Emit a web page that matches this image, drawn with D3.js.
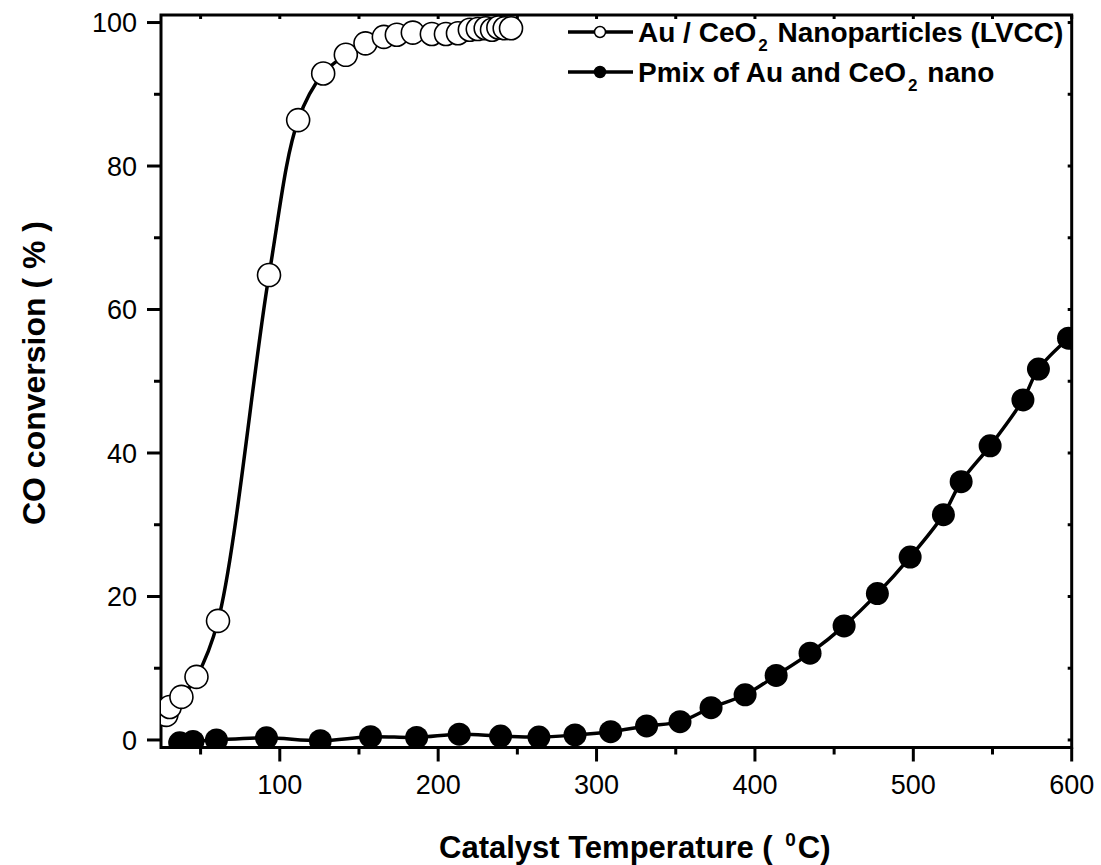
<!DOCTYPE html>
<html>
<head>
<meta charset="utf-8">
<script src="https://cdn.jsdelivr.net/npm/d3@7"></script>
<style>
  body { margin: 0; background: #fff; }
  svg { font-family: "Liberation Sans", Arial, sans-serif; }
</style>
</head>
<body>
<svg id="chart" width="1101" height="865"></svg>
<script>
/* ==== Data ==== */
// Au / CeO2 Nanoparticles (LVCC)
var tempAu = [28.4, 30.5, 37.9, 47.4, 61.0, 93.2, 111.6, 127.4, 141.7, 154.1, 165.7, 173.9,
              184, 196, 204.9, 212.5, 220, 225, 230, 234, 238, 242, 246];
var convAu = [3.5, 4.6, 6.0, 8.8, 16.6, 64.8, 86.4, 92.9, 95.5, 97.1, 98.0, 98.3,
              98.6, 98.4, 98.4, 98.5, 99.0, 99.1, 99.2, 99.0, 99.3, 99.2, 99.2];

// Pmix of Au and CeO2 nano
var tempPmix = [36.8, 45.2, 60.0, 91.6, 125.6, 157.3, 186.4, 213.3, 239.4, 263.6, 286.4, 308.9,
                331.6, 352.7, 372.3, 393.8, 413.4, 434.8, 456.3, 477.3, 498.0, 519.0, 530.2,
                548.5, 569.2, 579.0, 598.0];
var convPmix = [-0.4, -0.2, 0, 0.3, -0.1, 0.45, 0.35, 0.8, 0.55, 0.4, 0.7, 1.15,
                1.95, 2.55, 4.5, 6.3, 9.0, 12.1, 15.9, 20.4, 25.5, 31.4, 36.0,
                41.0, 47.4, 51.7, 56.0];

var xMajor = [100, 200, 300, 400, 500, 600];
var xMinor = [50, 150, 250, 350, 450, 550];
var yMajor = [0, 20, 40, 60, 80, 100];
var yMinor = [10, 30, 50, 70, 90];

var seriesNames = ["Au / CeO|2| Nanoparticles (LVCC)", "Pmix of Au and CeO|2| nano"];

function zip(xs, ys) { return xs.map(function(x, i) { return { t: x, v: ys[i] }; }); }
var auPoints = zip(tempAu, convAu);
var pmixPoints = zip(tempPmix, convPmix);

/* ==== Layout ==== */
var LEFT = 161, RIGHT = 1071.7, TOP = 15, BOTTOM = 747.5;
var MARKER_R = 11.5;
var MAJOR_LEN = 14, MINOR_LEN = 7, INNER_LEN = 4;

var svg = d3.select("#chart");
var x = d3.scaleLinear().domain([25, 600]).range([LEFT, RIGHT]);
var y = d3.scaleLinear().domain([-1.05, 101.05]).range([BOTTOM, TOP]);

svg.append("defs").append("clipPath").attr("id", "plotClip")
   .append("rect")
   .attr("x", LEFT).attr("y", TOP)
   .attr("width", RIGHT - LEFT).attr("height", BOTTOM - TOP);

/* ==== Ticks ==== */
var ticks = svg.append("g").attr("class", "ticks")
               .attr("stroke", "#000").attr("stroke-width", 3);

function xTicks(values, y1, y2) {
  ticks.append("g").selectAll("line").data(values).enter().append("line")
       .attr("x1", function(d) { return x(d); }).attr("x2", function(d) { return x(d); })
       .attr("y1", y1).attr("y2", y2);
}
function yTicks(values, x1, x2) {
  ticks.append("g").selectAll("line").data(values).enter().append("line")
       .attr("y1", function(d) { return y(d); }).attr("y2", function(d) { return y(d); })
       .attr("x1", x1).attr("x2", x2);
}

xTicks(xMajor, BOTTOM, BOTTOM + MAJOR_LEN);
xTicks(xMinor, BOTTOM, BOTTOM + MINOR_LEN);
xTicks(xMajor.concat(xMinor), TOP, TOP + INNER_LEN);
yTicks(yMajor, LEFT - MAJOR_LEN, LEFT);
yTicks(yMinor, LEFT - MINOR_LEN, LEFT);
yTicks(yMajor.concat(yMinor), RIGHT - INNER_LEN, RIGHT);

/* ==== Tick labels ==== */
svg.append("g").selectAll("text").data(xMajor).enter().append("text")
   .attr("x", function(d) { return x(d); }).attr("y", 794)
   .attr("text-anchor", "middle").attr("font-size", 27)
   .text(function(d) { return d; });

svg.append("g").selectAll("text").data(yMajor).enter().append("text")
   .attr("x", 137).attr("y", function(d) { return y(d); }).attr("dy", "0.36em")
   .attr("text-anchor", "end").attr("font-size", 27)
   .text(function(d) { return d; });

// frame
svg.append("rect")
   .attr("x", LEFT).attr("y", TOP)
   .attr("width", RIGHT - LEFT).attr("height", BOTTOM - TOP)
   .attr("fill", "none").attr("stroke", "#000").attr("stroke-width", 3);

/* ==== Series ==== */
var line = d3.line().x(function(d) { return x(d.t); }).y(function(d) { return y(d.v); })
             .curve(d3.curveCatmullRom.alpha(0.5));

var plot = svg.append("g").attr("clip-path", "url(#plotClip)");

plot.append("path").datum(pmixPoints)
    .attr("d", line).attr("fill", "none").attr("stroke", "#000").attr("stroke-width", 3.5);
plot.append("path").datum(auPoints)
    .attr("d", line).attr("fill", "none").attr("stroke", "#000").attr("stroke-width", 3.5);

plot.append("g").selectAll("circle").data(pmixPoints).enter().append("circle")
    .attr("cx", function(d) { return x(d.t); })
    .attr("cy", function(d) { return y(d.v); })
    .attr("r", MARKER_R).attr("fill", "#000");

plot.append("g").selectAll("circle").data(auPoints).enter().append("circle")
    .attr("cx", function(d) { return x(d.t); })
    .attr("cy", function(d) { return y(d.v); })
    .attr("r", MARKER_R).attr("fill", "#fff").attr("stroke", "#000").attr("stroke-width", 1.6);

/* ==== Legend ==== */
var legend = svg.append("g").attr("class", "legend");
var legendRows = legend.selectAll("g").data(seriesNames).enter().append("g")
    .attr("transform", function(d, i) { return "translate(0," + (32 + i * 40) + ")"; });

legendRows.append("line")
    .attr("x1", 568).attr("x2", 633).attr("y1", 0).attr("y2", 0)
    .attr("stroke", "#000").attr("stroke-width", 3.5);
legendRows.append("circle")
    .attr("cx", 600).attr("cy", 0).attr("r", 5.5)
    .attr("fill", function(d, i) { return i === 0 ? "#fff" : "#000"; })
    .attr("stroke", "#000").attr("stroke-width", 1.5);

legendRows.append("text")
    .attr("x", 638).attr("y", 10)
    .attr("font-size", 28).attr("font-weight", "bold")
    .each(function(d) {
      var t = d3.select(this);
      d.split("|").forEach(function(part, i) {
        var sp = t.append("tspan").text(part);
        if (i === 1) sp.attr("font-size", 17).attr("dy", 9).attr("dx", 2);
        if (i === 2) sp.attr("dy", -9).attr("dx", 2);
      });
    });

/* ==== Axis titles ==== */
var xTitle = svg.append("text")
    .attr("x", 439).attr("y", 858)
    .attr("font-size", 31).attr("font-weight", "bold");
xTitle.append("tspan").text("Catalyst Temperature ( ");
xTitle.append("tspan").text("0").attr("font-size", 19).attr("dy", -12).attr("dx", 4);
xTitle.append("tspan").text("C)").attr("dy", 12).attr("dx", 2);

svg.append("text")
   .attr("transform", "translate(45,373) rotate(-90)")
   .attr("text-anchor", "middle")
   .attr("font-size", 32).attr("font-weight", "bold")
   .text("CO conversion ( % )");
</script>
</body>
</html>
